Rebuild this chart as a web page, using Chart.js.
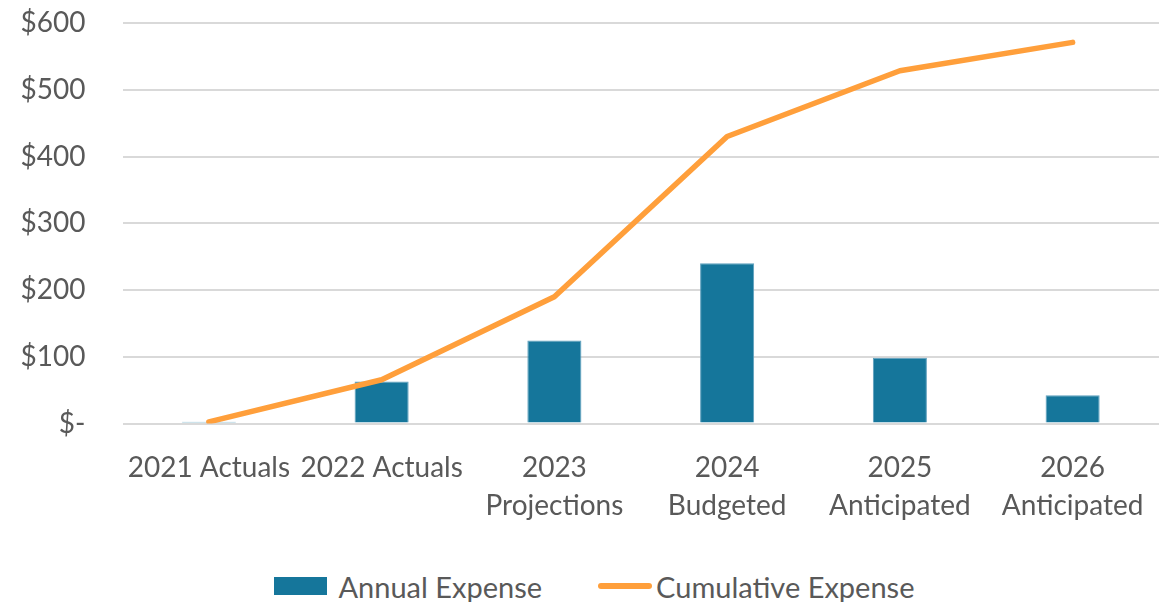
<!DOCTYPE html>
<html>
<head>
<meta charset="utf-8">
<title>Annual and Cumulative Expense</title>
<script src="https://cdn.jsdelivr.net/npm/chart.js@4.4.1/dist/chart.umd.min.js"></script>
<style>
  html, body { margin: 0; padding: 0; background: #ffffff; }
  #wrap { width: 1168px; height: 602px; position: relative; overflow: hidden; }
  #plot { position: absolute; left: 0; top: 0; width: 1168px; height: 560px; }
  #legend {
    position: absolute; left: 0; top: 568px; width: 1188px; height: 36px;
    display: flex; justify-content: center; align-items: center;
    font-family: Lato, "Open Sans", "DejaVu Sans", sans-serif;
    font-size: 29px; color: #595959; white-space: nowrap;
  }
  .item { display: flex; align-items: center; }
  .item + .item { margin-left: 56px; }
  .swatch-bar { width: 53px; height: 18px; margin-right: 12px; }
  .swatch-line { width: 54px; height: 6px; border-radius: 3px; margin-right: 4px; }
</style>
</head>
<body>
<div id="wrap">
  <div id="plot"><canvas id="chart"></canvas></div>
  <div id="legend"></div>
</div>
<script>
// Fiscal periods (multi-line labels are arrays of lines)
const categories = [
  ['2021 Actuals'],
  ['2022 Actuals'],
  ['2023', 'Projections'],
  ['2024', 'Budgeted'],
  ['2025', 'Anticipated'],
  ['2026', 'Anticipated']
];

// Expense per period
const annualExpense = [2.5, 63, 124.5, 240, 98.5, 42.5];

// Running total of expense
const cumulativeExpense = [2.5, 65.5, 190, 430, 528.5, 571];

// Value axis ticks and their labels
const yTickValues = [0, 100, 200, 300, 400, 500, 600];
const yTickLabels = ['$-', '$100', '$200', '$300', '$400', '$500', '$600'];

const FONT = 'Lato, "Open Sans", "DejaVu Sans", sans-serif';
const FONT_SIZE = 28;
const TEXT = '#595959';
const BAR_BLUE = '#15769B';
const LINE_ORANGE = '#FF9F3B';

const chart = new Chart(document.getElementById('chart'), {
  data: {
    labels: categories,
    datasets: [
      {
        type: 'bar',
        label: 'Annual Expense',
        data: annualExpense,
        backgroundColor: BAR_BLUE,
        borderColor: '#5d9fbd',
        borderWidth: 1,
        barPercentage: 0.313,
        categoryPercentage: 1,
        order: 2
      },
      {
        type: 'line',
        label: 'Cumulative Expense',
        data: cumulativeExpense,
        borderColor: LINE_ORANGE,
        backgroundColor: LINE_ORANGE,
        borderWidth: 5.5,
        borderCapStyle: 'round',
        borderJoinStyle: 'round',
        pointRadius: 0,
        pointHoverRadius: 0,
        tension: 0,
        fill: false,
        order: 1
      }
    ]
  },
  options: {
    responsive: true,
    maintainAspectRatio: false,
    animation: false,
    layout: { padding: { top: 23, left: 10, right: 9, bottom: 16.5 } },
    plugins: {
      tooltip: { enabled: false },
      legend: { display: false }
    },
    scales: {
      x: {
        grid: { display: false },
        border: { display: false },
        ticks: {
          font: { family: FONT, size: FONT_SIZE, lineHeight: 1.36 },
          color: TEXT,
          padding: 17,
          maxRotation: 0,
          minRotation: 0,
          autoSkip: false
        },
        afterFit(scale) { scale.height = 120; }
      },
      y: {
        min: 0,
        max: 600,
        grid: {
          color: '#d9d9d9',
          lineWidth: 2,
          drawTicks: true,
          tickLength: 37,
          tickColor: 'rgba(0,0,0,0)'
        },
        border: { display: false },
        ticks: {
          stepSize: 100,
          font: { family: FONT, size: FONT_SIZE },
          color: TEXT,
          padding: 0,
          callback(value) {
            const i = yTickValues.indexOf(value);
            return i >= 0 ? yTickLabels[i] : '';
          }
        },
        afterFit(scale) { scale.width = 112.5; }
      }
    }
  }
});

// Legend built from the chart's own datasets
const legendEl = document.getElementById('legend');
chart.data.datasets.forEach((ds) => {
  const item = document.createElement('div');
  item.className = 'item';
  const sw = document.createElement('span');
  if (ds.type === 'line') {
    sw.className = 'swatch-line';
    sw.style.background = ds.borderColor;
  } else {
    sw.className = 'swatch-bar';
    sw.style.background = ds.backgroundColor;
  }
  const label = document.createElement('span');
  label.textContent = ds.label;
  item.appendChild(sw);
  item.appendChild(label);
  legendEl.appendChild(item);
});
</script>
</body>
</html>
